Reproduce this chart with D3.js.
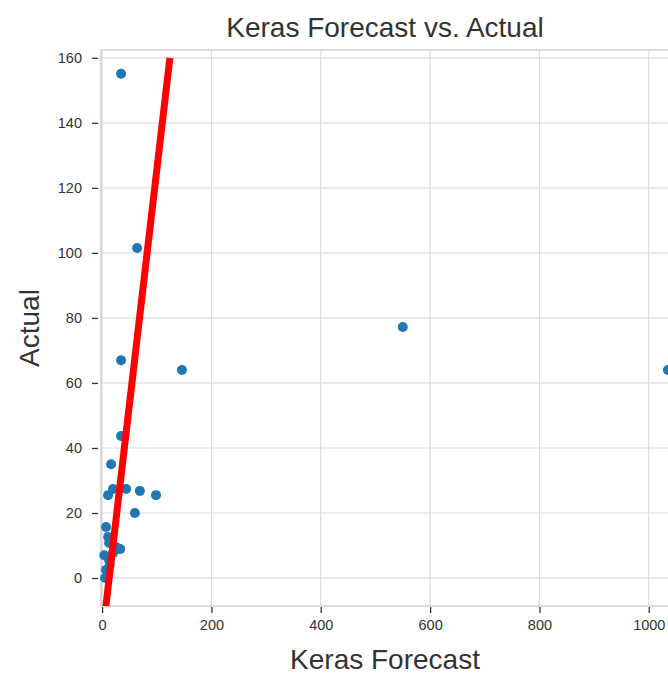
<!DOCTYPE html>
<html>
<head>
<meta charset="utf-8">
<script src="https://cdn.jsdelivr.net/npm/d3@7"></script>
<style>
  body { margin: 0; background: white; }
  text { font-family: "Liberation Sans", Arial, sans-serif; }
</style>
</head>
<body>
<div id="chart"></div>
<script>
var forecast = [34.7, 64, 34.7, 146, 550, 1035, 34.7, 16.4, 11, 20, 44, 69, 98.6, 60,
  33, 25.6, 7.3, 11, 12.8, 20, 12.8, 7.3, 5.5, 4, 14];
var actual = [155.1, 101.5, 67, 64, 77.2, 64, 43.7, 35, 25.5, 27.4, 27.4, 26.8, 25.5, 20,
  8.9, 9.5, 15.7, 12.6, 10.8, 7.7, 5.5, 2.5, 0, 7, 4];
var fitLineX = [6, 124];
var fitLineY = [-10, 160];
var xTicks = [0, 200, 400, 600, 800, 1000];
var yTicks = [0, 20, 40, 60, 80, 100, 120, 140, 160];
var xDomain = [-2, 1037];
var yDomain = [-8.6, 162.4];

function drawChart() {
  var W = 668, H = 677;
  var pl = 101, pr = 669, pt = 50, pb = 606;

  var svg = d3.select("#chart").append("svg")
    .attr("width", W)
    .attr("height", H);

  var x = d3.scaleLinear().domain(xDomain).range([pl, pr]);
  var y = d3.scaleLinear().domain(yDomain).range([pb, pt]);

  svg.append("defs").append("clipPath").attr("id", "plotclip")
    .append("rect")
    .attr("x", pl).attr("y", pt)
    .attr("width", pr - pl).attr("height", pb - pt);

  // grid
  var grid = svg.append("g");
  xTicks.forEach(function(t) {
    grid.append("line")
      .attr("x1", x(t)).attr("x2", x(t))
      .attr("y1", pt).attr("y2", pb)
      .attr("stroke", "#dcdcdc").attr("stroke-width", 1.2);
  });
  yTicks.forEach(function(t) {
    grid.append("line")
      .attr("x1", pl).attr("x2", pr)
      .attr("y1", y(t)).attr("y2", y(t))
      .attr("stroke", "#dcdcdc").attr("stroke-width", 1.2);
  });

  // spines
  svg.append("rect")
    .attr("x", pl).attr("y", pt)
    .attr("width", pr - pl).attr("height", pb - pt)
    .attr("fill", "none")
    .attr("stroke", "#cfcfcf")
    .attr("stroke-width", 1.5);

  // axes
  var xAxis = d3.axisBottom(x).tickValues(xTicks).tickSize(6).tickPadding(7)
    .tickFormat(d3.format("d"));
  var yAxis = d3.axisLeft(y).tickValues(yTicks).tickSize(6).tickPadding(10)
    .tickFormat(d3.format("d"));

  var gx = svg.append("g").attr("transform", "translate(0," + (pb + 1) + ")").call(xAxis);
  var gy = svg.append("g").attr("transform", "translate(" + (pl - 3) + ",0)").call(yAxis);
  [gx, gy].forEach(function(g) {
    g.select(".domain").remove();
    g.selectAll(".tick line").attr("stroke", "#333").attr("stroke-width", 1.3);
    g.selectAll(".tick text")
      .attr("fill", "#333")
      .style("font-size", "14.5px")
      .style("font-family", "'Liberation Sans', Arial, sans-serif");
  });

  // points
  svg.append("g")
    .selectAll("circle")
    .data(d3.range(forecast.length))
    .join("circle")
    .attr("cx", function(i) { return x(forecast[i]); })
    .attr("cy", function(i) { return y(actual[i]); })
    .attr("r", 5)
    .attr("fill", "#1f77b4");

  // fitted line
  svg.append("line")
    .attr("clip-path", "url(#plotclip)")
    .attr("x1", x(fitLineX[0])).attr("y1", y(fitLineY[0]))
    .attr("x2", x(fitLineX[1])).attr("y2", y(fitLineY[1]))
    .attr("stroke", "red")
    .attr("stroke-width", 7);

  // labels
  svg.append("text")
    .attr("x", (pl + pr) / 2).attr("y", 37)
    .attr("text-anchor", "middle")
    .attr("fill", "#333")
    .style("font-size", "28px")
    .text("Keras Forecast vs. Actual");

  svg.append("text")
    .attr("x", (pl + pr) / 2).attr("y", 669)
    .attr("text-anchor", "middle")
    .attr("fill", "#333")
    .style("font-size", "28px")
    .text("Keras Forecast");

  svg.append("text")
    .attr("transform", "translate(39," + ((pt + pb) / 2) + ") rotate(-90)")
    .attr("text-anchor", "middle")
    .attr("fill", "#333")
    .style("font-size", "28px")
    .text("Actual");
} // drawChart

drawChart();
</script>
</body>
</html>
